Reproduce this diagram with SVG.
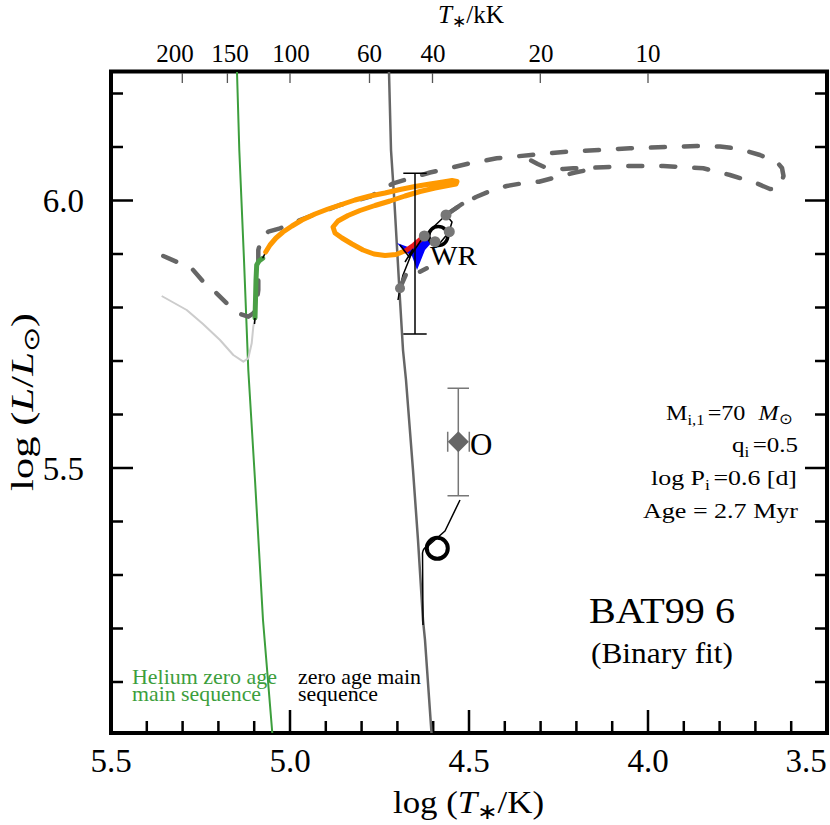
<svg xmlns="http://www.w3.org/2000/svg" width="830" height="825" viewBox="0 0 830 825">
<style>
  .tick { stroke: #000; stroke-width: 2.5; fill: none; }
  .ttick { stroke: #555; stroke-width: 1.3; fill: none; }
  .dash { fill: none; stroke: #666; stroke-width: 4.5; stroke-linecap: round; stroke-linejoin: round; stroke-dasharray: 14 19; }
  .thin { fill: none; stroke: #000; stroke-width: 1.5; stroke-linejoin: round; }
  .dot { fill: #777; }
</style>
<rect width="830" height="825" fill="#fff"/>

<g id="axes">
  <rect x="111" y="71.5" width="716" height="661.5" fill="none" stroke="#000" stroke-width="4"/>
  <path class="tick" d="M111,200.5h22M111,468h22M111,93.5h12M111,147h12M111,254h12M111,307.5h12M111,361h12M111,414.5h12M111,521.5h12M111,575h12M111,628.5h12M111,682h12"/>
  <path class="tick" d="M827,200.5h-22M827,468h-22M827,93.5h-12M827,147h-12M827,254h-12M827,307.5h-12M827,361h-12M827,414.5h-12M827,521.5h-12M827,575h-12M827,628.5h-12M827,682h-12"/>
  <path class="tick" d="M290,733v-23M469,733v-23M648,733v-23M146.8,733v-12M182.6,733v-12M218.4,733v-12M254.2,733v-12M325.8,733v-12M361.6,733v-12M397.4,733v-12M433.2,733v-12M504.8,733v-12M540.6,733v-12M576.4,733v-12M612.2,733v-12M683.8,733v-12M719.6,733v-12M755.4,733v-12M791.2,733v-12"/>
  <path class="ttick" d="M182.3,73v10M227.4,73v10M290,73v10M369.5,73v10M432.5,73v10M540.3,73v10M648,73v10"/>
  <text font-family="Liberation Serif" font-size="33" x="84" y="212" text-anchor="end">6.0</text>
  <text font-family="Liberation Serif" font-size="33" x="84" y="479.5" text-anchor="end">5.5</text>
  <text font-family="Liberation Serif" font-size="33" x="111" y="772" text-anchor="middle">5.5</text>
  <text font-family="Liberation Serif" font-size="33" x="290" y="772" text-anchor="middle">5.0</text>
  <text font-family="Liberation Serif" font-size="33" x="469" y="772" text-anchor="middle">4.5</text>
  <text font-family="Liberation Serif" font-size="33" x="648" y="772" text-anchor="middle">4.0</text>
  <text font-family="Liberation Serif" font-size="33" x="806" y="772" text-anchor="middle">3.5</text>
  <text font-family="Liberation Serif" font-size="25" x="175" y="62" text-anchor="middle">200</text>
  <text font-family="Liberation Serif" font-size="25" x="230" y="62" text-anchor="middle">150</text>
  <text font-family="Liberation Serif" font-size="25" x="291" y="62" text-anchor="middle">100</text>
  <text font-family="Liberation Serif" font-size="25" x="369.5" y="62" text-anchor="middle">60</text>
  <text font-family="Liberation Serif" font-size="25" x="433" y="62" text-anchor="middle">40</text>
  <text font-family="Liberation Serif" font-size="25" x="541" y="62" text-anchor="middle">20</text>
  <text font-family="Liberation Serif" font-size="25" x="648" y="62" text-anchor="middle">10</text>
  <text font-family="Liberation Serif" font-size="25" x="438" y="23" textLength="66" lengthAdjust="spacingAndGlyphs"><tspan font-style="italic">T</tspan><tspan font-size="17" dy="4">∗</tspan><tspan dy="-4">/kK</tspan></text>
  <text font-family="Liberation Serif" font-size="31" x="393" y="813" textLength="151" lengthAdjust="spacingAndGlyphs">log (<tspan font-style="italic">T</tspan><tspan font-size="22" dy="6">∗</tspan><tspan dy="-6">/K)</tspan></text>
  <text font-family="Liberation Serif" font-size="31" transform="translate(33,491) rotate(-90)" x="0" y="0" textLength="178" lengthAdjust="spacingAndGlyphs">log (<tspan font-style="italic">L</tspan>/<tspan font-style="italic">L</tspan><tspan font-size="22" dy="6">⊙</tspan><tspan dy="-6">)</tspan></text>
</g>

<g id="zams-lines">
  <polyline fill="none" stroke="#3c9e3c" stroke-width="2" points="237,72 239.3,150 244,260 248.3,370 255,480 263,620 272.3,733"/>
  <polyline fill="none" stroke="#666" stroke-width="2.5" points="389,72 391,150 394.3,200 400,300 403,350 406,380 413,470 418,540 423,620 425,640 431.5,733"/>
</g>

<g id="tracks">
  <polyline fill="none" stroke="#cccccc" stroke-width="2" stroke-linejoin="round" points="161.7,296 186.7,310 203,324 220,340 233.3,355 243.3,361.7 248.3,358.3 251.7,343.3 253.3,326.7 255,318.3"/>
  <polyline class="dash" points="163.3,256 191.7,268.3 203.3,281.7 215,291.7 226.7,303.3 238.3,313.3 248.3,316.7 253.3,313.3 256,306.7 258.3,290 258.3,266.7 258.3,250 261.7,237 268.3,231.7 280,228.3 300,220 326.7,210 340,205 370,196.7 393.3,183.3 430,172.5 470,163.3 496.7,158.3 531,155 563.3,152 630,148.3 696.7,146 720,146.5 740,149 760,155 776.7,161.7 782,168 783.5,176 781,184 776,189 770,189 757,183.5 743,179 730,175 703.3,168.3 663.3,166 630,166 603.3,167.3 573.3,168.3 563.3,169 547.3,168.3 537.7,164 528,159"/>
  <polyline class="dash" points="446,215 462,204 476,197 492.7,190 506.7,186 524,183 539,181.7 557,177 575,172.5 595,168.5"/>
  <polyline fill="none" stroke="#4a9f45" stroke-width="5" stroke-linecap="round" stroke-linejoin="round" points="255,318 255.5,300 256,280 256.7,265 259,261 262.7,258.3"/>
  <path class="thin" d="M262.7,258.3L265.7,252M255,318L254.5,324"/>
  <polyline fill="none" stroke="#ff9900" stroke-width="5" stroke-linecap="round" stroke-linejoin="round" points="265.7,252 270,245 276,238 283,232 292,226 302,220 315,214 328,209 340,205 355,200 370,196 385,193 400,189.5 415,186.5 430,184 443,182 452,180.5 457,181.5 456,184 448,185.5 435,188 420,191.5 405,196 390,201 375,205.5 360,210.5 348,215.5 338,221 333,227 335,233 342,238 352,244 363,250 374,254 385,255.5 396,254.5 407,250"/>
  <polygon fill="#0000ff" points="397,243 408,247 420,241 430,237 433,241 425,250 417,270 412,256 404,251"/>
  <polyline fill="none" stroke="#e8161b" stroke-width="5" stroke-linecap="round" points="406,250.5 414,245 421,239"/>
  <path class="thin" d="M400,245L410,258M413,249L405,262M398,300L400,288L403,275L411,255L424,236L446,215L452,222L449,232L440,243L432,244"/>
  <path fill="none" stroke="#666" stroke-width="4.5" stroke-linecap="round" d="M400,288L405.7,275M420,271.7L426.7,268.3M446,215L462,204"/>
  <path class="thin" d="M423,625L422.5,553Q423,548 428,546L445,531L460,500"/>
</g>

<g id="wr-star">
  <line x1="415" y1="173.3" x2="415" y2="334" stroke="#000" stroke-width="1.5"/>
  <path d="M403.3,173.3H426.7M403.3,334H426.7" stroke="#000" stroke-width="1.5"/>
  <circle cx="438.3" cy="236" r="9.5" fill="none" stroke="#000" stroke-width="3.5"/>
  <circle class="dot" cx="446" cy="215" r="5.5"/>
  <circle class="dot" cx="449.3" cy="231.7" r="5.5"/>
  <circle class="dot" cx="435" cy="241.7" r="5.5"/>
  <circle class="dot" cx="424.3" cy="236" r="5.5"/>
  <circle class="dot" cx="400" cy="288.3" r="5"/>
  <text font-family="Liberation Serif" font-size="28" x="430" y="265" textLength="47" lengthAdjust="spacingAndGlyphs">WR</text>
</g>

<g id="o-star">
  <path d="M458.3,388.3V495.7M447.5,388.3H469M447.5,495.7H469M447.7,431.7V451.7M469.3,431.7V451.7" stroke="#777" stroke-width="1.5" fill="none"/>
  <polygon points="458.3,431.2 468.8,441.7 458.3,452.2 447.8,441.7" fill="#666"/>
  <text font-family="Liberation Serif" font-size="31" x="470" y="455">O</text>
  <circle cx="437.3" cy="548.3" r="10.5" fill="none" stroke="#000" stroke-width="4"/>
</g>

<g id="info">
  <text font-family="Liberation Serif" font-size="22" x="666" y="420" textLength="127" lengthAdjust="spacingAndGlyphs">M<tspan font-size="15" dy="5">i,1</tspan><tspan dy="-5" dx="3">=70</tspan><tspan dx="12" font-style="italic">M</tspan><tspan font-size="15" dy="4">⊙</tspan></text>
  <text font-family="Liberation Serif" font-size="22" x="732" y="452" textLength="66" lengthAdjust="spacingAndGlyphs">q<tspan font-size="15" dy="5">i</tspan><tspan dy="-5" dx="3">=0.5</tspan></text>
  <text font-family="Liberation Serif" font-size="22" x="651" y="485" textLength="146" lengthAdjust="spacingAndGlyphs">log P<tspan font-size="15" dy="5">i</tspan><tspan dy="-5" dx="3">=0.6 [d]</tspan></text>
  <text font-family="Liberation Serif" font-size="22" x="643" y="518" textLength="155" lengthAdjust="spacingAndGlyphs">Age = 2.7 Myr</text>
  <text font-family="Liberation Serif" font-size="36" x="589" y="623" textLength="146" lengthAdjust="spacingAndGlyphs">BAT99 6</text>
  <text font-family="Liberation Serif" font-size="30" x="591" y="663" textLength="142" lengthAdjust="spacingAndGlyphs">(Binary fit)</text>
</g>

<g id="legend">
  <text font-family="Liberation Serif" font-size="21" x="132" y="684" fill="#3c9e3c" textLength="145" lengthAdjust="spacingAndGlyphs">Helium zero age</text>
  <text font-family="Liberation Serif" font-size="21" x="132" y="701" fill="#3c9e3c" textLength="129" lengthAdjust="spacingAndGlyphs">main sequence</text>
  <text font-family="Liberation Serif" font-size="21" x="298" y="684" fill="#000" textLength="123" lengthAdjust="spacingAndGlyphs">zero age main</text>
  <text font-family="Liberation Serif" font-size="21" x="298" y="701" fill="#000" textLength="80" lengthAdjust="spacingAndGlyphs">sequence</text>
</g>
</svg>
